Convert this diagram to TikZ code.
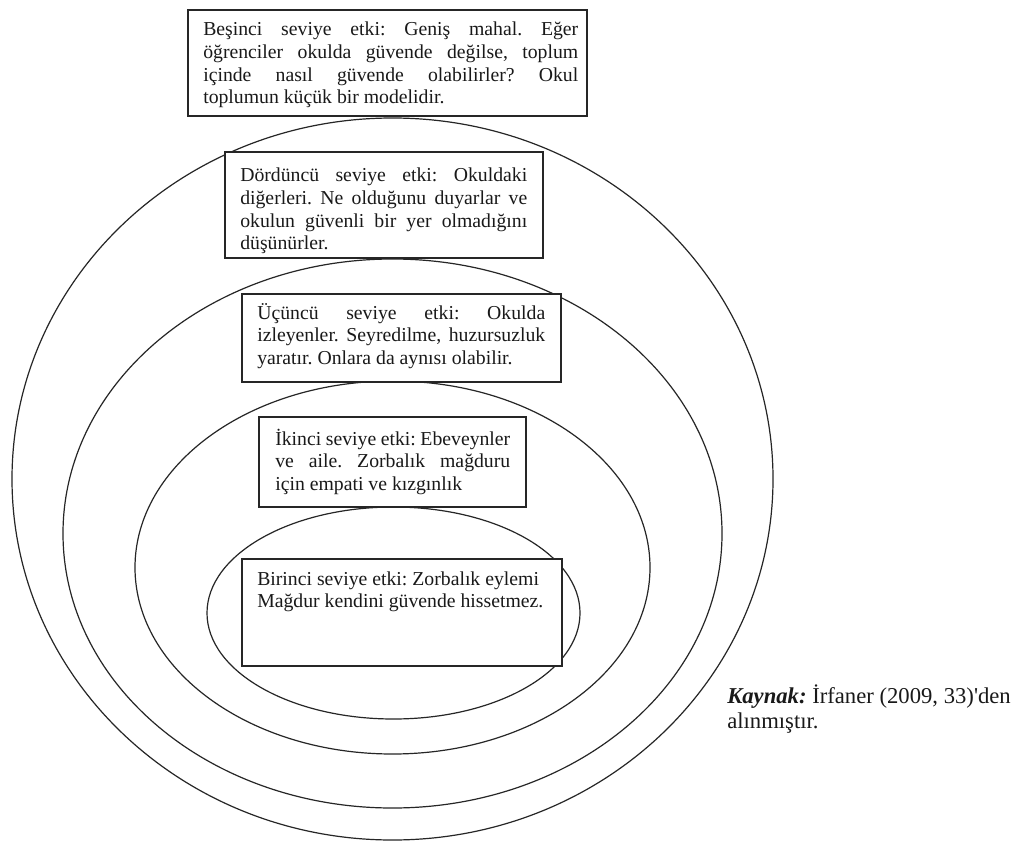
\documentclass[tikz,border=0pt]{standalone}
\usepackage{fontspec}
\setmainfont{Liberation Serif}[Ligatures=TeXOff]
\usetikzlibrary{fit}
\frenchspacing
\newcommand\justline[1]{\makebox[\linewidth][s]{#1}}
\tikzset{
  ring/.style={draw=black!85, line width=0.9pt},
  lvlbox/.style={draw=black!85, line width=1.1pt, fill=white, inner sep=0pt},
  lvltext/.style={inner sep=0pt, anchor=base west, text=black!90,
    font=\fontsize{14.8pt}{17pt}\selectfont\frenchspacing},
  srctext/.style={inner sep=0pt, anchor=base west, text=black!90,
    font=\fontsize{17pt}{18.8pt}\selectfont\frenchspacing}
}
\begin{document}
\begin{tikzpicture}[x=0.75pt, y=-0.75pt]
\fill[white] (0,0) rectangle (1019,841);
\useasboundingbox (0,0) rectangle (1019,841);
% rings
\draw[ring] (392.5,479) ellipse [x radius=380.5, y radius=361];
\draw[ring] (392.5,533.5) ellipse [x radius=329.5, y radius=274.5];
\draw[ring] (392.5,567.5) ellipse [x radius=257.5, y radius=186.5];
\draw[ring] (393.5,613) ellipse [x radius=186.5, y radius=106];
% boxes
\coordinate (b5a) at (188,10);  \coordinate (b5b) at (587,116);
\coordinate (b4a) at (225,152); \coordinate (b4b) at (543,258);
\coordinate (b3a) at (242,294); \coordinate (b3b) at (561,382);
\coordinate (b2a) at (259,417); \coordinate (b2b) at (526,507);
\coordinate (b1a) at (242,559); \coordinate (b1b) at (562,666);
\node[lvlbox, fit=(b5a)(b5b)] (b5) {};
\node[lvlbox, fit=(b4a)(b4b)] (b4) {};
\node[lvlbox, fit=(b3a)(b3b)] (b3) {};
\node[lvlbox, fit=(b2a)(b2b)] (b2) {};
\node[lvlbox, fit=(b1a)(b1b)] (b1) {};
% texts
\node[lvltext] (t5) at (203,36) {\parbox[t]{281.25pt}{%
\justline{Beşinci seviye etki: Geniş mahal. Eğer}\\
\justline{öğrenciler okulda güvende değilse, toplum}\\
\justline{içinde nasıl güvende olabilirler? Okul}\\
toplumun küçük bir modelidir.}};
\node[lvltext] (t4) at (240,182) {\parbox[t]{215.25pt}{%
\justline{Dördüncü seviye etki: Okuldaki}\\
\justline{diğerleri. Ne olduğunu duyarlar ve}\\
\justline{okulun güvenli bir yer olmadığını}\\
düşünürler.}};
\node[lvltext] (t3) at (257,319) {\parbox[t]{216pt}{%
\justline{Üçüncü seviye etki: Okulda}\\
\justline{izleyenler. Seyredilme, huzursuzluk}\\
yaratır. Onlara da aynısı olabilir.}};
\node[lvltext] (t2) at (275,445) {\parbox[t]{176.25pt}{%
\justline{İkinci seviye etki: Ebeveynler}\\
\justline{ve aile. Zorbalık mağduru}\\
için empati ve kızgınlık}};
\node[lvltext] (t1) at (257,585) {\parbox[t]{225pt}{%
Birinci seviye etki: Zorbalık eylemi\\
Mağdur kendini güvende hissetmez.}};
% source
\node[srctext] (src) at (727,703) {\parbox[t]{230pt}{%
\textbf{\textit{Kaynak:}} İrfaner (2009, 33)'den\\
alınmıştır.}};
\end{tikzpicture}
\end{document}
